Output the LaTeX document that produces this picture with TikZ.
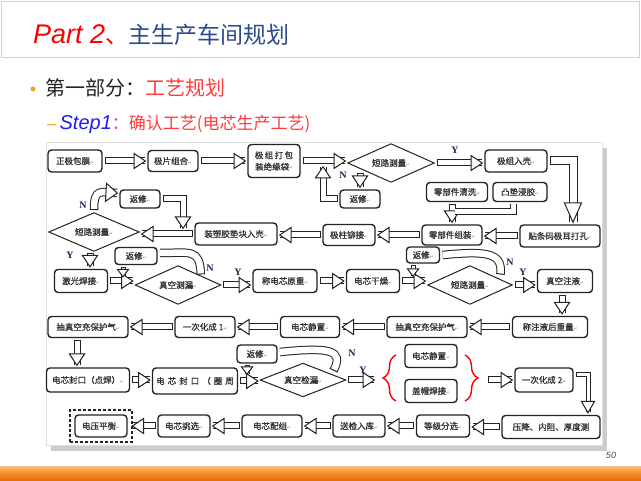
\documentclass[tikz,border=0pt]{standalone}
\usepackage{fontspec}
\setmainfont{Noto Sans CJK SC}
\newfontfamily\cjkb{Noto Sans CJK SC}[FakeBold=0.9]
\newfontfamily\latf{Liberation Sans}
\newfontfamily\dvf{DejaVu Sans}
\newfontfamily\serf{Liberation Serif}
\usetikzlibrary{shapes.geometric,decorations.markings,decorations.pathreplacing,fit,calc}
\definecolor{navyl}{RGB}{25,35,85}
\definecolor{ttlblue}{RGB}{45,75,140}
\definecolor{ored}{RGB}{255,0,0}
\definecolor{lred}{RGB}{255,60,60}
\definecolor{bulor}{RGB}{240,160,40}
\definecolor{stepblue}{RGB}{30,30,240}
\definecolor{ln}{RGB}{35,35,35}
\definecolor{txt}{RGB}{50,50,50}
\definecolor{barA}{RGB}{250,185,110}
\definecolor{barB}{RGB}{242,135,30}
\definecolor{barC}{RGB}{225,110,10}
\newcommand\ret{{\dvf\fontsize{4.5}{5}\selectfont\textcolor{gray}{↵}}}
\newcommand\fl{\cjkb\fontsize{8.5}{10}\selectfont}
\tikzset{
  bx/.style={draw=ln, line width=1.4pt, rounded corners=3.5pt, fill=white, inner sep=0pt, outer sep=3pt, font=\fl, text=txt, align=center},
  dm/.style={diamond, draw=ln, line width=1pt, fill=white, inner sep=0pt, outer sep=2pt, font=\fl, text=txt, aspect=2.2},
  sz/.style 2 args={minimum width=#1pt, minimum height=#2pt},
  yn/.style={font=\serf\bfseries\fontsize{10}{10}\selectfont, text=navyl, inner sep=0pt},
  ha/.style n args={4}{draw=white, line width=#1, line join=miter,
    preaction={draw=ln, line width=#2, line join=miter},
    postaction={decorate, decoration={markings,
      mark=at position 0 with {\draw[ln, line width=1pt] (0pt,-#2/2) -- (0pt,#2/2);},
      mark=at position 1 with {\draw[ln, line width=1pt, fill=white, line join=miter] (0.3pt,0pt) -- (-#3,#4) -- (-#3,-#4) -- cycle;}}}},
  harr/.style={ha={5pt}{7pt}{11pt}{7.5pt}},
  hbig/.style={ha={7pt}{9pt}{19pt}{8.5pt}},
  hcur/.style={ha={6.5pt}{8.5pt}{11pt}{9pt}},
  hsm/.style={ha={3pt}{5pt}{7pt}{5.5pt}},
  hmed/.style={ha={3pt}{5pt}{11pt}{6.5pt}},
  hln/.style={draw=white, line width=5pt, line join=miter, preaction={draw=ln, line width=7pt, line join=miter}},
  brc/.style={draw=ored, line width=1.4pt, decorate, decoration={brace, amplitude=#1}},
}
\begin{document}
\begin{tikzpicture}[x=1pt, y=1pt]
\useasboundingbox (0,0) rectangle (641,-481);
\fill[white] (0,0) rectangle (641,-481);
% header
\draw[gray!35, line width=0.8pt] (1.5,-1.5) rectangle (639.5,-57);
\node[anchor=base west, inner sep=0pt] (title) at (33,-44)
  {{\latf\itshape\fontsize{27}{30}\selectfont\color{ored}Part 2}{\fontsize{23}{26}\selectfont\textcolor{ored}{、}\textcolor{ttlblue}{主生产车间规划}}};
\node[circle, fill=bulor, inner sep=0pt, minimum size=5pt] (bul) at (33,-89) {};
\node[anchor=base west, inner sep=0pt, font=\fontsize{20}{24}\selectfont] (sec) at (45,-96)
  {\textcolor{ln}{第一部分：}\textcolor{lred}{工艺规划}};
\node[anchor=base west, inner sep=0pt] (step) at (47,-129.5)
  {{\latf\fontsize{17}{20}\selectfont\color{bulor}–}\hspace{3pt}{\latf\itshape\fontsize{20}{24}\selectfont\color{stepblue}Step1}{\fontsize{17}{20}\selectfont\color{lred}：确认工艺(电芯生产工艺)}};
% footer
\shade[top color=barA, bottom color=barC, middle color=barB] (0,-467) rectangle (641,-481);
\node[font=\latf\itshape\fontsize{9}{10}\selectfont, text=gray!60!black] (pg) at (611,-455) {50};
% picture frame and shadow
\fill[gray!40] (602,-148) rectangle (607,-451);
\fill[gray!40] (51,-445) rectangle (607,-451);
\draw[gray!25, fill=white] (46,-142) rectangle (602,-445);

% row 1
\node[bx, sz={54}{22}] (n1) at (75,-161) {正极包膜\ret};
\node[bx, sz={50}{21}] (n2) at (173,-161) {极片组合\ret};
\node[bx, sz={52}{33}, font=\fl\linespread{1.15}\selectfont] (n3) at (274,-161) {极\,组\,打\,包\\装绝缘袋\ret};
\node[dm, sz={88}{40}] (d1) at (391,-163) {短路测量\ret};
\node[bx, sz={62}{22}] (n4) at (516,-161) {极组入壳\ret};
\node[bx, sz={40}{18}] (r1) at (360,-199) {返修\ret};
\node[bx, sz={61}{19}] (n5) at (457,-192) {零部件清洗\ret};
\node[bx, sz={54}{19}] (n6) at (520,-192) {凸垫浸胶\ret};
% row 2
\node[bx, sz={80}{22}] (n7) at (560,-236) {贴条码极耳打孔\ret};
\node[bx, sz={60}{20}] (n8) at (452,-235) {零部件组装\ret};
\node[bx, sz={52}{21}] (n9) at (349,-235) {极柱铆接\ret};
\node[bx, sz={82}{22}] (n10) at (236,-234) {装塑胶垫块入壳\ret};
\node[dm, sz={92}{40}] (d2) at (94,-232) {短路测量\ret};
\node[bx, sz={40}{18}] (r2) at (140,-199) {返修\ret};
% row 3
\node[bx, sz={53}{23}] (n11) at (81,-281) {激光焊接\ret};
\node[bx, sz={42}{17}] (r3) at (136,-256) {返修\ret};
\node[dm, sz={87}{40}] (d3) at (178,-285) {真空测漏\ret};
\node[bx, sz={64}{23}] (n12) at (285,-281) {称电芯原重\ret};
\node[bx, sz={53}{23}] (n13) at (373,-281) {电芯干燥\ret};
\node[bx, sz={33}{16}] (r4) at (423,-255) {返修\ret};
\node[dm, sz={86}{40}] (d4) at (470,-285) {短路测量\ret};
\node[bx, sz={55}{23}] (n14) at (565,-281) {真空注液\ret};
% row 4
\node[bx, sz={75}{21}] (n15) at (550,-327) {称注液后重量\ret};
\node[bx, sz={80}{21}] (n16) at (427,-327) {抽真空充保护气\ret};
\node[bx, sz={59}{21}] (n17) at (310,-327) {电芯静置\ret};
\node[bx, sz={60}{21}] (n18) at (205,-327) {一次化成 1\ret};
\node[bx, sz={80}{21}] (n19) at (88,-327) {抽真空充保护气\ret};
% row 5
\node[bx, sz={83}{24}] (n20) at (88,-380) {电芯封口（点焊）\ret};
\node[bx, sz={85}{26}] (n21) at (195,-381) {电\hspace{3pt}芯\hspace{3pt}封\hspace{3pt}口\hspace{3pt}（\hspace{3pt}圈\hspace{3pt}周};
\node[bx, sz={40}{18}] (r5) at (257,-354) {返修\ret};
\node[dm, sz={87}{35}] (d5) at (303,-380) {真空检漏\ret};
\node[bx, sz={52}{23}] (b1) at (431,-356) {电芯静置\ret};
\node[bx, sz={52}{23}] (b2) at (431,-391) {盖帽焊接\ret};
\node[bx, sz={58}{24}] (n22) at (544,-380) {一次化成 2\ret};
% row 6
\node[bx, sz={98}{23}] (n23) at (551,-427) {压降、内阻、厚度测};
\node[bx, sz={53}{22}] (n24) at (443,-426) {等级分选\ret};
\node[bx, sz={52}{22}] (n25) at (359,-426) {送检入库\ret};
\node[bx, sz={60}{22}] (n26) at (272,-426) {电芯配组\ret};
\node[bx, sz={52}{22}] (n27) at (184,-426) {电芯挑选\ret};
\node[bx, sz={52}{22}] (n28) at (101,-426) {电压平衡\ret};
\node[draw=ln, line width=1.3pt, dash pattern=on 3pt off 2pt, fit=(n28), inner sep=2pt] (dz) {};

% Y / N labels
\node[yn] (y1) at (455,-150) {Y};
\node[yn] (nn1) at (343,-175) {N};
\node[yn] (nn2) at (83,-205) {N};
\node[yn] (y2) at (70,-255) {Y};
\node[yn] (nn3) at (210,-268) {N};
\node[yn] (y3) at (238,-272) {Y};
\node[yn] (nn4) at (510,-262) {N};
\node[yn] (y4) at (523,-272) {Y};
\node[yn] (nn5) at (352,-353) {N};
\node[yn] (y5) at (363,-370) {Y};

% arrows row 1
\draw[harr] (n1.east) -- (n2.west);
\draw[harr] (n2.east) -- (n3.west);
\draw[harr] (n3.east) -- (n3.east -| d1.west);
\draw[harr] (d1.east) -- (d1.east -| n4.west);
\draw[hbig] (n4.east) -| ([xshift=13pt]n7.north);
\draw[harr] (r1.north |- d1.south west) -- (r1.north);
\coordinate (m1) at (323,-167);
\draw[harr] (r1.west) -| (m1);
\draw[harr] (n8.north |- n5.south) -- (n8.north);
\coordinate (j1) at (455,-212);
\draw[hln] ([xshift=-7pt]n6.south) |- (j1);
% row 2
\draw[harr] (n7.west) -- (n7.west -| n8.east);
\draw[harr] (n8.west) -- (n8.west -| n9.east);
\draw[harr] (n9.west) -- (n9.west -| n10.east);
\draw[harr] (n10.west) -- (n10.west -| d2.east);
\draw[hcur] (d2.north) .. controls (94,-188) and (100,-192) .. ([yshift=6pt]r2.west);
\coordinate (m2) at (183,-228);
\draw[harr] (r2.east) -| (m2);
\draw[harr] ([xshift=-4pt]d2.south) -- ([xshift=-4pt]d2.south |- n11.north);
% row 3
\draw[harr] (n11.east) -- (n11.east -| d3.west);
\draw[hsm] ([xshift=-13pt]r3.south) -- ++(0,-9);
\draw[hcur] (d3.north east) .. controls (200,-248) and (190,-253) .. ([yshift=3pt]r3.east);
\draw[harr] (d3.east) -- (d3.east -| n12.west);
\draw[harr] (n12.east) -- (n12.east -| n13.west);
\draw[harr] (n13.east) -- (n13.east -| d4.west);
\draw[hsm] ([xshift=-10pt]r4.south) -- ++(0,-10);
\draw[hcur] ([xshift=8pt]d4.north east) .. controls (503,-252) and (485,-251) .. (r4.east);
\draw[harr] (d4.east) -- (d4.east -| n14.west);
\draw[harr] ([xshift=-3pt]n14.south) -- ([xshift=-3pt]n14.south |- n15.north);
% row 4
\draw[harr] (n15.west) -- (n15.west -| n16.east);
\draw[harr] (n16.west) -- (n16.west -| n17.east);
\draw[harr] (n17.west) -- (n17.west -| n18.east);
\draw[harr] (n18.west) -- (n18.west -| n19.east);
\draw[harr] ([xshift=-11pt]n19.south) -- ([xshift=-11pt]n19.south |- n20.north);
% row 5
\draw[harr] (n20.east) -- (n20.east -| n21.west);
\draw[harr] (n21.east) -- (n21.east -| d5.west);
\draw[hsm] ([xshift=-10pt]r5.south) -- ++(0,-8);
\draw[hcur] ([xshift=8pt]d5.north east) .. controls (344,-350) and (330,-347) .. ([yshift=2pt]r5.east);
\coordinate (bl) at (374,-380);
\draw[harr] (d5.east) -- (bl);
\draw[brc=13pt] (396,-401) -- (396,-355);
\draw[brc=13pt] (465,-355) -- (465,-401);
\coordinate (br) at (488,-380);
\draw[harr] (br) -- (n22.west);
\draw[hmed] ([yshift=5pt]n22.east) -| ([xshift=37pt]n23.north);
% row 6
\draw[harr] (n23.west) -- (n23.west -| n24.east);
\draw[harr] (n24.west) -- (n24.west -| n25.east);
\draw[harr] (n25.west) -- (n25.west -| n26.east);
\draw[harr] (n26.west) -- (n26.west -| n27.east);
\draw[harr] (n27.west) -- (n27.west -| dz.east);
\end{tikzpicture}
\end{document}
